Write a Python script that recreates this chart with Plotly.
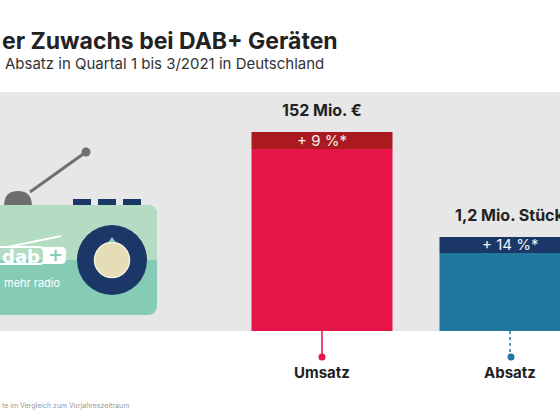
import plotly.graph_objects as go

# ---- data ----
categories = ["Umsatz", "Absatz"]
values = [152, 1.2]
value_labels = ["152 Mio. €", "1,2 Mio. Stück"]
change_labels = ["+ 9 %*", "+ 14 %*"]
title_text = "er Zuwachs bei DAB+ Geräten"
subtitle_text = "Absatz in Quartal 1 bis 3/2021 in Deutschland"
footnote_text = "te im Vergleich zum Vorjahreszeitraum"

W, H = 560, 420
BAR_COL = ["#E5154A", "#21789F"]
BAND_COL = ["#AA1A1E", "#1B3768"]
FONT = "Inter"

def px(x):
    return x / W

def py(y):
    return 1 - y / H

plot_top, plot_bot = 92, 331
yr1 = [0, 182.6]
yr2 = [0, 3.05]
band1 = 17 * yr1[1] / (plot_bot - plot_top)
band2 = 16 * yr2[1] / (plot_bot - plot_top)
bands = [band1, band2]

fig = go.Figure()
axes = ["y", "y2"]
for i, cat in enumerate(categories):
    fig.add_trace(go.Bar(x=[cat], y=[values[i] - bands[i]], width=0.75,
                         marker=dict(color=BAR_COL[i], line=dict(width=0)),
                         yaxis=axes[i], hoverinfo="skip", showlegend=False))
    fig.add_trace(go.Bar(x=[cat], y=[bands[i]], base=[values[i] - bands[i]], width=0.75,
                         marker=dict(color=BAND_COL[i], line=dict(width=0)),
                         yaxis=axes[i], hoverinfo="skip", showlegend=False))

ann = []
for i, cat in enumerate(categories):
    yref = "y" if i == 0 else "y2"
    ann.append(dict(x=cat, y=values[i], xref="x", yref=yref, text=value_labels[i],
                    showarrow=False, yanchor="bottom", yshift=10,
                    font=dict(family=FONT, size=16, color="#222222", weight="bold")))
    ann.append(dict(x=cat, y=values[i] - bands[i] / 2, xref="x", yref=yref, text=change_labels[i],
                    showarrow=False, yanchor="middle",
                    font=dict(family=FONT, size=15, color="#F4F4F4")))
    ann.append(dict(x=cat, y=py(372), xref="x", yref="paper", text=cat,
                    showarrow=False, yanchor="middle",
                    font=dict(family=FONT, size=15, color="#1E1E1E", weight="bold")))

ann.append(dict(x=px(0), y=py(41), xref="paper", yref="paper", text=title_text,
                showarrow=False, xanchor="left", yanchor="middle",
                font=dict(family=FONT, size=23, color="#222222", weight="bold")))
ann.append(dict(x=px(3), y=py(63), xref="paper", yref="paper", text=subtitle_text,
                showarrow=False, xanchor="left", yanchor="middle",
                font=dict(family=FONT, size=15, color="#333333")))
ann.append(dict(x=px(0), y=py(405), xref="paper", yref="paper", text=footnote_text,
                showarrow=False, xanchor="left", yanchor="middle",
                font=dict(family=FONT, size=7, color="#999999")))

shapes = []
# stems + dots
for i, cat in enumerate(categories):
    shapes.append(dict(type="line", xref="x", yref="paper", x0=cat, x1=cat,
                       y0=py(331), y1=py(356),
                       line=dict(color=BAR_COL[i], width=1.5, dash="solid" if i == 0 else "dot")))
for i, xc in enumerate([322, 511]):
    shapes.append(dict(type="circle", xref="paper", yref="paper",
                       x0=px(xc - 3.5), x1=px(xc + 3.5), y0=py(360.5), y1=py(353.5),
                       fillcolor=BAR_COL[i], line=dict(width=0)))

def rect_path(x0, y0, x1, y1, r, top_only=False):
    p = f"M {px(x0)},{py(y0)} L {px(x1 - r)},{py(y0)} Q {px(x1)},{py(y0)} {px(x1)},{py(y0 + r)} "
    if top_only:
        p += f"L {px(x1)},{py(y1)} L {px(x0)},{py(y1)} Z"
    else:
        p += f"L {px(x1)},{py(y1 - r)} Q {px(x1)},{py(y1)} {px(x1 - r)},{py(y1)} L {px(x0)},{py(y1)} Z"
    return p

# antenna
shapes.append(dict(type="line", xref="paper", yref="paper", x0=px(30), y0=py(192), x1=px(86), y1=py(152),
                   line=dict(color="#707070", width=3)))
shapes.append(dict(type="circle", xref="paper", yref="paper", x0=px(81.5), x1=px(90.5), y0=py(156.5), y1=py(147.5),
                   fillcolor="#707070", line=dict(width=0)))
shapes.append(dict(type="path", xref="paper", yref="paper",
                   path=f"M {px(4)},{py(206)} Q {px(4)},{py(191)} {px(18)},{py(191)} Q {px(32)},{py(191)} {px(32)},{py(206)} Z",
                   fillcolor="#6E6E6E", line=dict(width=0)))
# buttons
for bx in [73, 98, 123]:
    shapes.append(dict(type="rect", xref="paper", yref="paper", x0=px(bx), x1=px(bx + 18), y0=py(205), y1=py(199),
                       fillcolor="#1B3768", line=dict(width=0)))
# body
shapes.append(dict(type="path", xref="paper", yref="paper", path=rect_path(-10, 205, 157, 315, 10),
                   fillcolor="#86CBB6", line=dict(width=0)))
shapes.append(dict(type="path", xref="paper", yref="paper", path=rect_path(-10, 205, 157, 260, 10, top_only=True),
                   fillcolor="#B3DCC3", line=dict(width=0)))
# speaker
shapes.append(dict(type="circle", xref="paper", yref="paper", x0=px(77), x1=px(147), y0=py(295), y1=py(225),
                   fillcolor="#1B3768", line=dict(width=0)))
shapes.append(dict(type="path", xref="paper", yref="paper",
                   path=f"M {px(106)},{py(245)} L {px(112)},{py(237)} L {px(118)},{py(245)} Z",
                   fillcolor="#7FC6C0", line=dict(width=0)))
shapes.append(dict(type="circle", xref="paper", yref="paper", x0=px(94.5), x1=px(129.5), y0=py(277.5), y1=py(242.5),
                   fillcolor="#E4DDB6", line=dict(color="#F2EEDA", width=1.5)))
# dab+ logo
shapes.append(dict(type="line", xref="paper", yref="paper", x0=px(8), y0=py(247), x1=px(61), y1=py(236),
                   line=dict(color="#FFFFFF", width=2)))
shapes.append(dict(type="path", xref="paper", yref="paper", path=rect_path(-6, 247, 44, 264, 5),
                   fillcolor="rgba(0,0,0,0)", line=dict(color="#FFFFFF", width=2)))
shapes.append(dict(type="path", xref="paper", yref="paper", path=rect_path(43, 247, 66, 264, 5),
                   fillcolor="#FFFFFF", line=dict(width=0)))

ann.append(dict(x=px(21), y=py(256), xref="paper", yref="paper", text="dab", showarrow=False,
                xanchor="center", yanchor="middle",
                font=dict(family="DejaVu Sans", size=18, color="#FFFFFF", weight="bold")))
ann.append(dict(x=px(55), y=py(255), xref="paper", yref="paper", text="+", showarrow=False,
                xanchor="center", yanchor="middle",
                font=dict(family="DejaVu Sans", size=18, color="#86CBB6", weight="bold")))
ann.append(dict(x=px(2), y=py(283), xref="paper", yref="paper", text="mehr radio", showarrow=False,
                xanchor="left", yanchor="middle",
                font=dict(family=FONT, size=11, color="#FFFFFF")))

unit = 188.0
xr = [-322 / unit, (W - 322) / unit]

fig.update_layout(
    width=W, height=H,
    margin=dict(l=0, r=0, t=0, b=0),
    paper_bgcolor="#FFFFFF",
    plot_bgcolor="#E6E7E6",
    barmode="overlay",
    xaxis=dict(domain=[0, 1], range=xr, showticklabels=False, showgrid=False, zeroline=False,
               fixedrange=True, type="category", categoryorder="array", categoryarray=categories),
    yaxis=dict(domain=[py(plot_bot), py(plot_top)], range=yr1, visible=False, showgrid=False, zeroline=False),
    yaxis2=dict(domain=[py(plot_bot), py(plot_top)], range=yr2, visible=False, showgrid=False,
                zeroline=False, overlaying="y", anchor="x"),
    annotations=ann,
    shapes=shapes,
    showlegend=False,
)

fig.write_html("out.html", config={"displayModeBar": False},
               post_script="document.body.style.margin='0';document.body.style.overflow='hidden';")
